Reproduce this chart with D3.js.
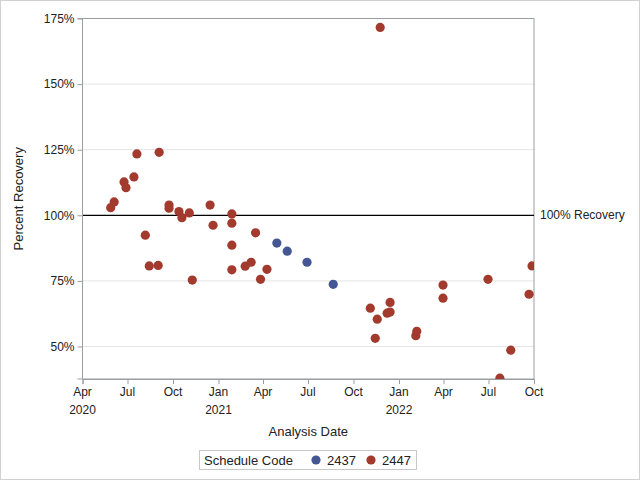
<!DOCTYPE html>
<html>
<head>
<meta charset="utf-8">
<script src="https://cdn.jsdelivr.net/npm/d3@7"></script>
<style>
  body { margin: 0; background: #fff; }
  svg text { font-family: "Liberation Sans", Arial, sans-serif; fill: #222; }
</style>
</head>
<body>
<svg id="chart" width="640" height="480"></svg>
<script>
// ---- Data ----
const blueDates = ["2021-04-29","2021-05-20","2021-06-29","2021-08-21"];
const blueValues = [89.4, 86.3, 82.1, 73.7];

const redDates = [
  "2020-05-28","2020-06-04","2020-06-24","2020-06-28","2020-07-14","2020-07-20",
  "2020-08-06","2020-08-14","2020-09-01","2020-09-03","2020-09-23","2020-09-23",
  "2020-10-13","2020-10-19","2020-11-03","2020-11-09","2020-12-15","2020-12-21",
  "2021-01-28","2021-01-28","2021-01-28","2021-01-28","2021-02-24","2021-03-08",
  "2021-03-17","2021-03-27","2021-04-09","2021-11-24","2021-11-04","2021-11-18",
  "2021-11-14","2021-12-08","2021-12-14","2021-12-14","2022-02-04","2022-02-06",
  "2022-03-31","2022-03-31","2022-06-30","2022-07-24","2022-08-15","2022-09-21",
  "2022-09-27"
];
const redValues = [
  102.9, 105.1, 112.7, 110.5, 114.6, 123.4,
  92.4, 80.7, 80.9, 124.0, 103.9, 102.7,
  101.4, 99.1, 100.9, 75.3, 103.9, 96.2,
  100.5, 97.0, 88.6, 79.2, 80.6, 82.1,
  93.3, 75.6, 79.4, 171.6, 64.6, 60.4,
  53.1, 62.7, 63.1, 66.8, 54.1, 55.8,
  73.4, 68.4, 75.6, 37.9, 48.6, 69.9,
  80.7
];

const yTicks = [50, 75, 100, 125, 150, 175];
const xTickDates = ["2020-04-01","2020-07-01","2020-10-01","2021-01-01","2021-04-01","2021-07-01",
                    "2021-10-01","2022-01-01","2022-04-01","2022-07-01","2022-10-01"];
const xTickMonths = ["Apr","Jul","Oct","Jan","Apr","Jul","Oct","Jan","Apr","Jul","Oct"];
const xTickYears = ["2020","","","2021","","","","2022","","",""];
const seriesNames = ["2437","2447"];
const seriesColors = ["#445694","#A23A2E"];
const refValue = 100;
const refLabel = "100% Recovery";

// ---- Layout ----
const svg = d3.select("#chart");
const W = 640, H = 480;
const L = 82.5, R = 534, T = 18.5, B = 379;
const parse = d3.utcParse("%Y-%m-%d");

const x = d3.scaleUtc().domain([parse("2020-04-01"), parse("2022-10-01")]).range([L, R]);
const y = d3.scaleLinear().domain([37.6, 175]).range([B, T]);

// outer border
svg.append("rect").attr("x", 0.5).attr("y", 0.5).attr("width", W - 1).attr("height", H - 1)
  .attr("fill", "#fff").attr("stroke", "#d0d0d0");

// gridlines
svg.append("g").selectAll("line").data(yTicks.filter(v => v !== 175 && v !== refValue)).join("line")
  .attr("x1", L).attr("x2", R).attr("y1", d => y(d)).attr("y2", d => y(d))
  .attr("stroke", "#e4e4e4").attr("stroke-width", 1);

// frame
svg.append("rect").attr("x", L).attr("y", T).attr("width", R - L).attr("height", B - T)
  .attr("fill", "none").attr("stroke", "#9a9da0").attr("stroke-width", 1);

// reference line
svg.append("line").attr("x1", L).attr("x2", R).attr("y1", y(refValue)).attr("y2", y(refValue))
  .attr("stroke", "#000").attr("stroke-width", 1.3);
svg.append("text").attr("x", R + 6).attr("y", y(refValue)).attr("dy", "0.35em")
  .attr("font-size", 12).text(refLabel);

// y axis
const yAxis = d3.axisLeft(y).tickValues(yTicks).tickSize(5).tickPadding(3).tickFormat(d => d + "%");
const gy = svg.append("g").attr("transform", `translate(${L},0)`).call(yAxis);
gy.select(".domain").attr("stroke", "#9a9da0").attr("d", `M-5,${B}H0V${T}H-5`);
gy.selectAll(".tick line").attr("stroke", "#9a9da0");
gy.selectAll(".tick text").attr("font-size", 12).attr("fill", "#222")
  .attr("font-family", '"Liberation Sans", Arial, sans-serif');

// x axis
const xt = xTickDates.map(parse);
const xAxis = d3.axisBottom(x).tickValues(xt).tickSize(5).tickFormat("");
const gx = svg.append("g").attr("transform", `translate(0,${B})`).call(xAxis);
gx.select(".domain").attr("stroke", "#9a9da0");
gx.selectAll(".tick line").attr("stroke", "#9a9da0");
const xl = svg.append("g");
xl.selectAll("text.m").data(xt).join("text").attr("class", "m")
  .attr("x", d => x(d)).attr("y", B + 17).attr("text-anchor", "middle").attr("font-size", 12)
  .text((d, i) => xTickMonths[i]);
xl.selectAll("text.yr").data(xt).join("text").attr("class", "yr")
  .attr("x", d => x(d)).attr("y", B + 35).attr("text-anchor", "middle").attr("font-size", 12)
  .text((d, i) => xTickYears[i]);

// axis labels
svg.append("text").attr("x", (L + R) / 2).attr("y", 436).attr("text-anchor", "middle")
  .attr("font-size", 13).text("Analysis Date");
svg.append("text").attr("transform", `translate(23,${(T + B) / 2}) rotate(-90)`)
  .attr("text-anchor", "middle").attr("font-size", 13).text("Percent Recovery");

// points (clipped to plot area)
svg.append("clipPath").attr("id", "plotclip").append("rect")
  .attr("x", L).attr("y", T).attr("width", R - L).attr("height", B - T);
const pts = svg.append("g").attr("clip-path", "url(#plotclip)");
const blue = blueDates.map((d, i) => ({ date: parse(d), v: blueValues[i], s: 0 }));
const red = redDates.map((d, i) => ({ date: parse(d), v: redValues[i], s: 1 }));
pts.selectAll("circle").data(blue.concat(red)).join("circle")
  .attr("cx", d => x(d.date)).attr("cy", d => y(d.v)).attr("r", 4.6)
  .attr("fill", d => seriesColors[d.s]);

// legend
const lg = svg.append("g");
lg.append("rect").attr("x", 199.5).attr("y", 450.5).attr("width", 217).attr("height", 19)
  .attr("fill", "#fff").attr("stroke", "#c8c8c8");
lg.append("text").attr("x", 204).attr("y", 465).attr("font-size", 13).text("Schedule Code");
const lx = [316, 371];
seriesNames.forEach((n, i) => {
  lg.append("circle").attr("cx", lx[i]).attr("cy", 460).attr("r", 4.6).attr("fill", seriesColors[i]);
  lg.append("text").attr("x", lx[i] + 11).attr("y", 465).attr("font-size", 13).text(n);
});
</script>
</body>
</html>
